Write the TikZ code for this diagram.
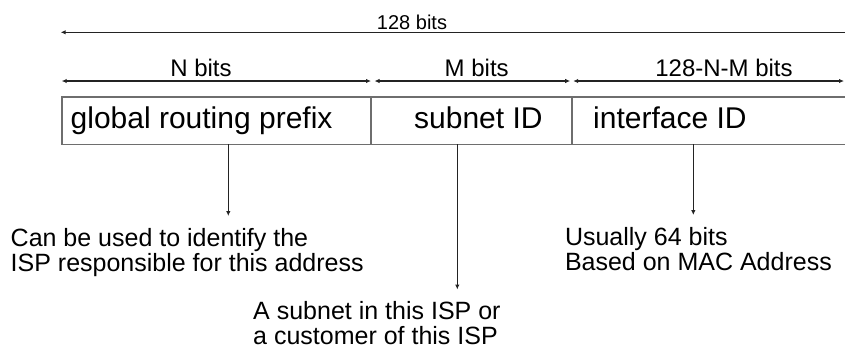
\documentclass[tikz,border=0pt]{standalone}
\usepackage{fontspec}
\setmainfont{Liberation Sans}
\usepackage{tikz}
\usetikzlibrary{positioning, arrows.meta, calc}
\definecolor{boxgray}{RGB}{110, 110, 110}
\definecolor{arrowgray}{RGB}{35, 35, 35}

\begin{document}
\begin{tikzpicture}[
  x=1pt, y=-1pt,
  node distance=0pt,
  cell/.style={
    draw=boxgray, line width=1.6pt, outer sep=0pt, inner sep=0pt,
    minimum height=47.6pt
  },
  celltext/.style={
    inner sep=0pt, font=\fontsize{30}{36}\selectfont,
    text height=22pt, text depth=7pt
  },
  bitlabel/.style={inner sep=0pt, anchor=base, font=\fontsize{24}{28}\selectfont},
  note/.style={
    inner sep=0pt, anchor=north west, align=left,
    font=\fontsize{25}{25}\selectfont
  },
  span/.style={arrowgray, line width=1.1pt,
    {Latex[length=5pt,width=4.5pt]}-{Latex[length=5pt,width=4.5pt]}},
  pointer/.style={arrowgray, line width=1.1pt, -{Latex[length=5pt,width=4.5pt]}}
]
\useasboundingbox (0,0) rectangle (845,349);
\clip (0,0) rectangle (845,349);

\node[cell, minimum width=309.3pt, anchor=north west] (gr) at (61.7,96.7) {};
\node[cell, minimum width=200.7pt, right=of gr] (sn) {};
\node[cell, minimum width=280.3pt, right=of sn] (ifc) {};

\node[celltext, right=8.8pt of gr.west] (grtext) {global routing prefix};
\node[celltext, right=43pt of sn.west] (sntext) {subnet ID};
\node[celltext, right=21.3pt of ifc.west] (ifctext) {interface ID};

\draw[span] ([xshift=-1pt,yshift=64.4pt]gr.north west) -- ([xshift=20pt,yshift=64.4pt]ifc.north east);
\node[bitlabel, font=\fontsize{20}{24}\selectfont] (allbits) at (412,29.3) {128 bits};

\draw[span] ([yshift=15.7pt]gr.north west) -- ([yshift=15.7pt]gr.north east);
\draw[span, shorten <=3.5pt, shorten >=1.5pt] ([yshift=15.7pt]sn.north west) -- ([yshift=15.7pt]sn.north east);
\draw[span, shorten <=1.5pt, shorten >=8pt] ([yshift=15.7pt]ifc.north west) -- ([yshift=15.7pt]ifc.north east);
\node[bitlabel] (nbits) at (201,76.7) {N bits};
\node[bitlabel] (mbits) at (476.7,76.7) {M bits};
\node[bitlabel] (restbits) at (724,76.7) {128-N-M bits};

\coordinate (grend) at (228.3,216);
\coordinate (snend) at (457.3,289.5);
\coordinate (ifcend) at (693.3,215);
\draw[pointer] (gr.south -| grend) -- (grend);
\draw[pointer] (sn.south -| snend) -- (snend);
\draw[pointer] (ifc.south -| ifcend) -- (ifcend);

\node[note] (grnote) at (10.5,228.5) {Can be used to identify the\\ISP responsible for this address};
\node[note] (ifcnote) at (564.8,226.8) {Usually 64 bits\\Based on MAC Address};
\node[note] (snnote) at (253,301.5) {A subnet in this ISP or\\a customer of this ISP};
\end{tikzpicture}
\end{document}
